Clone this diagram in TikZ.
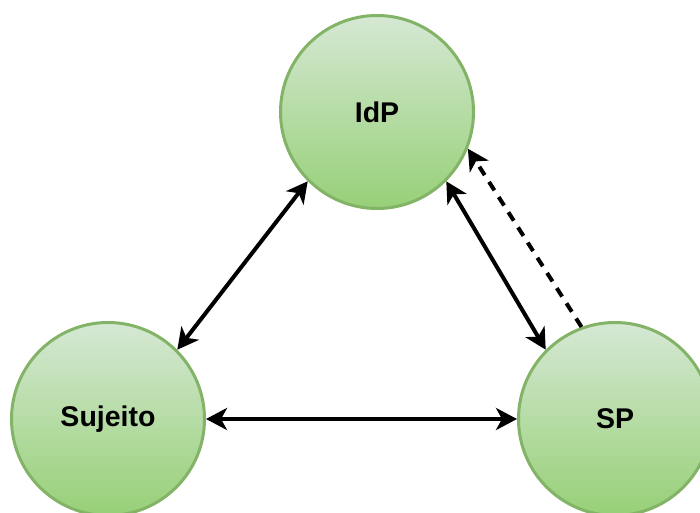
\documentclass[tikz,border=0pt]{standalone}
\usepackage{fontspec}
\setmainfont{Liberation Sans}
\usetikzlibrary{arrows.meta}
\definecolor{fillTop}{HTML}{D5E8D4}
\definecolor{fillBottom}{HTML}{97D077}
\definecolor{ringGreen}{HTML}{82B366}
\tikzset{
  party/.style={circle, minimum size=193pt, inner sep=0pt, line width=3pt,
    draw=ringGreen, top color=fillTop, bottom color=fillBottom,
    font=\fontsize{28.5}{30}\selectfont\bfseries},
  link/.style={line width=4pt,
    arrows={Stealth[length=21pt, width=22pt, inset=6pt]-Stealth[length=21pt, width=22pt, inset=6pt]}},
  oneway/.style={line width=4pt, dash pattern=on 10pt off 8pt,
    arrows={-Stealth[length=21pt, width=22pt, inset=6pt]}}
}
\begin{document}
\begin{tikzpicture}[x=1pt, y=1pt]
  \useasboundingbox (0,0) rectangle (700,512);
  \clip (0,0) rectangle (700,512);
  \node[party] (idp) at (377,400) {IdP};
  \node[party] (sujeito) at (108,93) {Sujeito};
  \node[party] (sp) at (615,93) {SP};
  \draw[link] (sujeito.45) -- (idp.225);
  \draw[link] (sujeito.east) -- (sp.west);
  \draw[link] (idp.-45) -- (sp.135);
  \draw[oneway] (sp.110) -- (idp.-22);
\end{tikzpicture}
\end{document}
